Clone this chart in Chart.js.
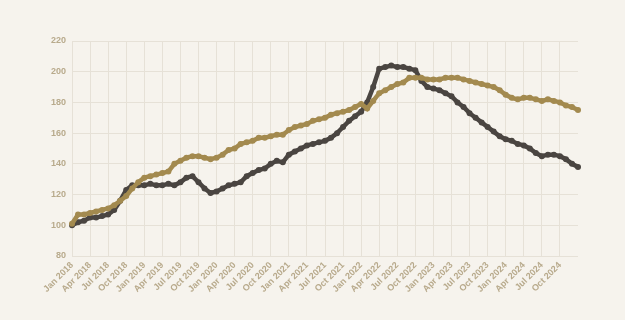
<!DOCTYPE html>
<html>
<head>
<meta charset="utf-8">
<script src="https://cdn.jsdelivr.net/npm/chart.js@4.4.1/dist/chart.umd.min.js"></script>
<style>
  html, body { margin: 0; padding: 0; background: #f6f3ed; }
  #wrap { width: 625px; height: 320px; }
</style>
</head>
<body>
<div id="wrap"><canvas id="myChart"></canvas></div>
<script>
// month labels, Jan 2018 .. Jan 2025
var monthNames = ['Jan', 'Feb', 'Mar', 'Apr', 'May', 'Jun', 'Jul', 'Aug', 'Sep', 'Oct', 'Nov', 'Dec'];
var years = [2018, 2019, 2020, 2021, 2022, 2023, 2024, 2025];
var labels = [];
years.forEach(function (y) {
    monthNames.forEach(function (m) {
        if (labels.length < 85) labels.push(m + ' ' + y);
    });
});

var darkSeries = [
    100, 102, 103, 105, 105, 106, 107, 110, 116, 123, 126, 126,
    126, 127, 126, 126, 127, 126, 128, 131, 132, 128, 124, 121,
    122, 124, 126, 127, 128, 132, 134, 136, 137, 140, 142, 141,
    146, 148, 150, 152, 153, 154, 155, 157, 160, 164, 168, 171,
    174, 180, 190, 202, 203, 204, 203, 203, 202, 201, 194, 190,
    189, 188, 186, 184, 180, 177, 173, 170, 167, 164, 161, 158,
    156, 155, 153, 152, 150, 147, 145, 146, 146, 145, 143, 140,
    138
];
var goldSeries = [
    101, 107, 107, 108, 109, 110, 111, 113, 116, 119, 124, 128,
    131, 132, 133, 134, 135, 140, 142, 144, 145, 145, 144, 143,
    144, 146, 149, 150, 153, 154, 155, 157, 157, 158, 159, 159,
    162, 164, 165, 166, 168, 169, 170, 172, 173, 174, 175, 177,
    179, 176, 181, 186, 188, 190, 192, 193, 196, 196, 196, 195,
    195, 195, 196, 196, 196, 195, 194, 193, 192, 191, 190, 188,
    185, 183, 182, 183, 183, 182, 181, 182, 181, 180, 178, 177,
    175
];

var darkColor = '#4a4541';
var goldColor = '#a38a4f';
var tickColor = '#b8aa8c';
var gridColor = '#e6e1d7';

var ctx = document.getElementById('myChart').getContext('2d');
var myChart = new Chart(ctx, {
    type: 'line',
    data: {
        labels: labels,
        datasets: [{
            label: 'gold',
            data: goldSeries,
            borderColor: goldColor,
            backgroundColor: goldColor,
            borderWidth: 4.5,
            pointRadius: 3,
            pointBorderWidth: 0,
            tension: 0
        }, {
            label: 'dark',
            data: darkSeries,
            borderColor: darkColor,
            backgroundColor: darkColor,
            borderWidth: 4.5,
            pointRadius: 3,
            pointBorderWidth: 0,
            tension: 0
        }]
    },
    options: {
        responsive: true,
        maintainAspectRatio: false,
        animation: false,
        layout: { padding: { left: 0, top: 41, right: 47, bottom: 0 } },
        plugins: {
            legend: { display: false },
            tooltip: { enabled: false }
        },
        scales: {
            x: {
                grid: { color: gridColor, drawTicks: false },
                border: { display: false },
                afterFit: function (scale) { scale.height = 64; },
                ticks: {
                    autoSkip: false,
                    minRotation: 45,
                    maxRotation: 45,
                    padding: 4,
                    color: tickColor,
                    font: { family: 'Liberation Sans, Arial, sans-serif', size: 9, weight: 'bold' },
                    callback: function (val, index) {
                        if (index % 3 === 0 && index < 84) return labels[index];
                        return null;
                    }
                }
            },
            y: {
                min: 80,
                max: 220,
                grid: { color: gridColor, drawTicks: false },
                border: { display: false },
                afterFit: function (scale) { scale.width = 72; },
                ticks: {
                    stepSize: 20,
                    padding: 6,
                    color: tickColor,
                    font: { family: 'Liberation Sans, Arial, sans-serif', size: 9, weight: 'bold' }
                }
            }
        }
    }
});
</script>
</body>
</html>
